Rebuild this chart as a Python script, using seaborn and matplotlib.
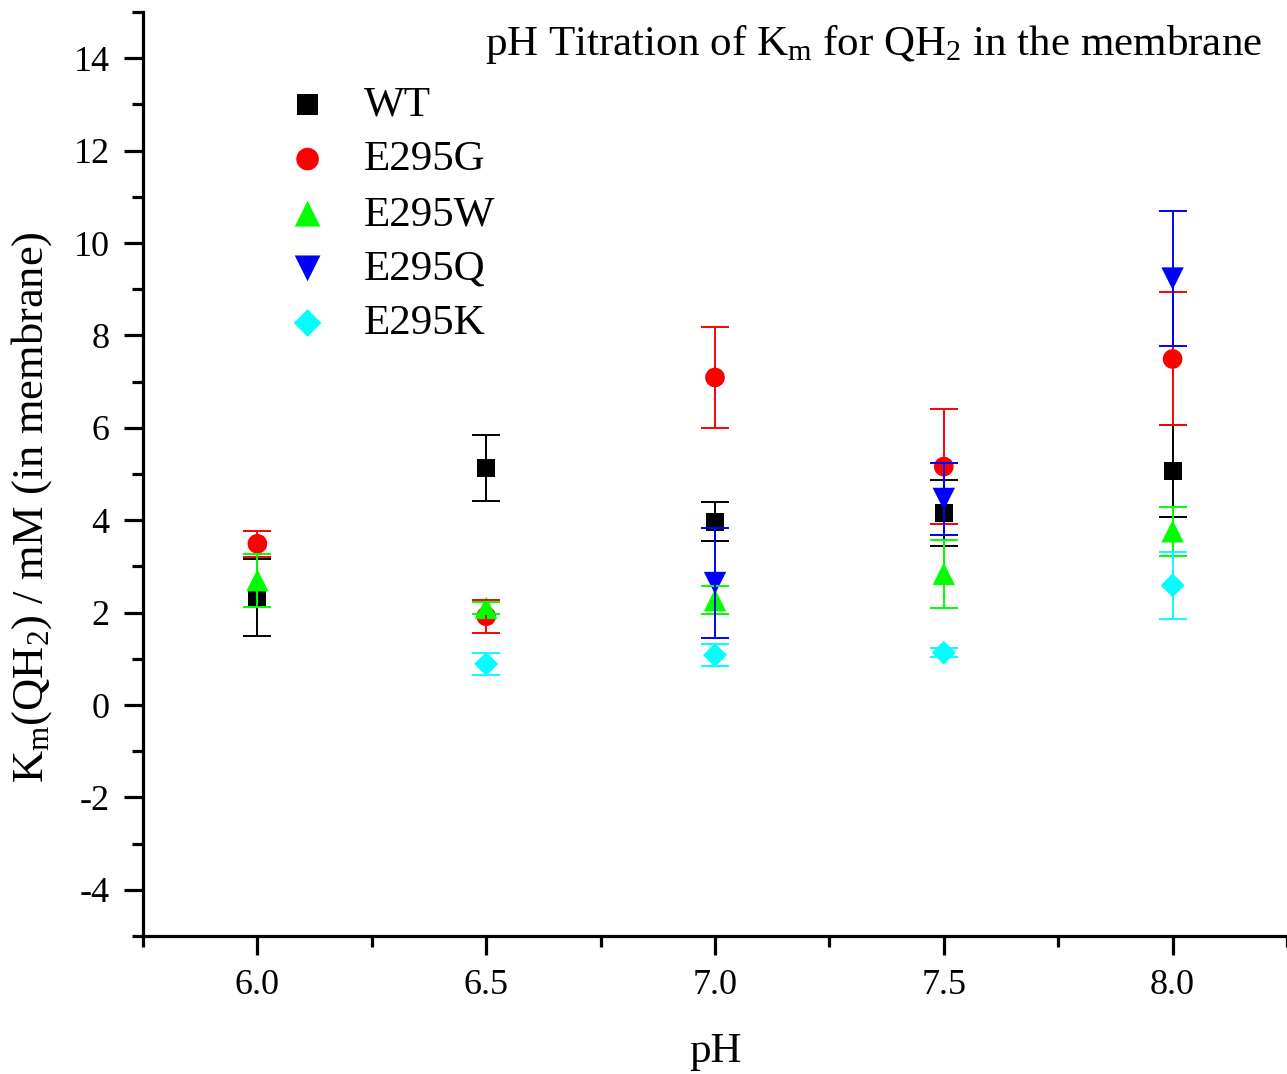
import numpy as np
import pandas as pd
import matplotlib
matplotlib.use("Agg")
import matplotlib.pyplot as plt
from matplotlib.ticker import MultipleLocator
import seaborn as sns

# ---- data ----
ph = [6.0, 6.5, 7.0, 7.5, 8.0]
mutants = ["WT", "E295G", "E295W", "E295Q", "E295K"]

wt_ph = [6.0, 6.5, 7.0, 7.5, 8.0]
wt_km = [2.32, 5.13, 3.97, 4.16, 5.06]
wt_err = [0.83, 0.71, 0.43, 0.72, 1.00]

g_ph = [6.0, 6.5, 7.0, 7.5, 8.0]
g_km = [3.49, 1.92, 7.09, 5.16, 7.49]
g_err = [0.28, 0.36, 1.10, 1.24, 1.44]

w_ph = [6.0, 6.5, 7.0, 7.5, 8.0]
w_km = [2.70, 2.10, 2.27, 2.84, 3.76]
w_err = [0.57, 0.12, 0.30, 0.73, 0.53]

q_ph = [7.0, 7.5, 8.0]
q_km = [2.64, 4.46, 9.23]
q_err = [1.20, 0.78, 1.47]

k_ph = [6.5, 7.0, 7.5, 8.0]
k_km = [0.89, 1.08, 1.13, 2.59]
k_err = [0.24, 0.23, 0.10, 0.73]

series = {
    "WT": (wt_ph, wt_km, wt_err),
    "E295G": (g_ph, g_km, g_err),
    "E295W": (w_ph, w_km, w_err),
    "E295Q": (q_ph, q_km, q_err),
    "E295K": (k_ph, k_km, k_err),
}
colors = {"WT": "#000000", "E295G": "#ff0000", "E295W": "#00ff00",
          "E295Q": "#0000ff", "E295K": "#00ffff"}
markers = {"WT": "s", "E295G": "o", "E295W": "^", "E295Q": "v", "E295K": "D"}
msizes = {"WT": 170, "E295G": 200, "E295W": 260, "E295Q": 260, "E295K": 150}

sns.set_style("ticks")
plt.rcParams["font.family"] = ["Liberation Serif", "DejaVu Serif"]
plt.rcParams["mathtext.fontset"] = "custom"
plt.rcParams["mathtext.rm"] = "Liberation Serif"
plt.rcParams["mathtext.it"] = "Liberation Serif:italic"
plt.rcParams["axes.unicode_minus"] = False
for k in ["text.color", "axes.labelcolor", "xtick.color", "ytick.color",
          "axes.edgecolor"]:
    plt.rcParams[k] = "black"

fig = plt.figure(figsize=(12.87, 10.74), dpi=100)
ax = fig.add_axes([143/1287, 138/1074, 1 - 143/1287, 924/1074])

for name in mutants:
    x, y, e = series[name]
    df = pd.DataFrame({"pH": x, "Km": y})
    sns.scatterplot(data=df, x="pH", y="Km", marker=markers[name],
                    color=colors[name], s=msizes[name], edgecolor="none",
                    linewidth=0, label=name, ax=ax, zorder=2)
    ax.errorbar(x, y, yerr=e, fmt="none", ecolor=colors[name],
                elinewidth=1.4, capsize=10, capthick=1.4, zorder=3)

ax.set_xlim(5.75, 8.25)
ax.set_ylim(-5, 15)
ax.xaxis.set_major_locator(MultipleLocator(0.5))
ax.xaxis.set_minor_locator(MultipleLocator(0.25))
ax.yaxis.set_major_locator(MultipleLocator(2))
ax.yaxis.set_minor_locator(MultipleLocator(1))
ax.xaxis.set_major_formatter(matplotlib.ticker.FormatStrFormatter("%.1f"))

for s in ["top", "right"]:
    ax.spines[s].set_visible(False)
for s in ["left", "bottom"]:
    ax.spines[s].set_linewidth(2.3)
    ax.spines[s].set_color("black")

ax.tick_params(axis="both", which="major", direction="out", length=14,
               width=2.3, labelsize=26, pad=10, colors="black")
ax.tick_params(axis="both", which="minor", direction="out", length=8,
               width=2.3, colors="black")

ax.set_xlabel("pH", fontsize=31, labelpad=22)
ax.set_ylabel(r"K$_\mathregular{m}$(QH$_\mathregular{2}$) / mM (in membrane)",
              fontsize=32)
ax.yaxis.set_label_coords(-0.078, 0.464)

leg = ax.legend(loc="upper left", bbox_to_anchor=(0.11, 0.939), frameon=False,
                fontsize=31, handletextpad=0.8, labelspacing=0.36,
                borderaxespad=0, handlelength=1.0, markerscale=1.15)

fig.text(1262/1287, 1 - 55/1074,
         r"pH Titration of K$_\mathregular{m}$ for QH$_\mathregular{2}$ in the membrane",
         ha="right", va="baseline", fontsize=31)

fig.savefig("out.png", dpi=100)
